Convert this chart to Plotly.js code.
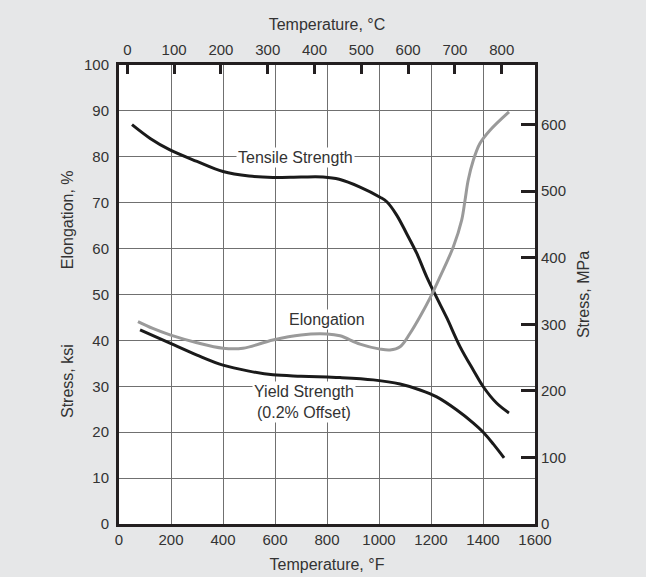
<!DOCTYPE html>
<html><head><meta charset="utf-8">
<script src="https://cdn.plot.ly/plotly-3.0.1.min.js"></script>
<style>html,body{margin:0;padding:0;background:#e6e7e8;}</style>
</head><body><div id="chart" style="width:646px;height:577px;"></div>
<script>
// Temperature in °F; strengths in ksi; elongation in %
const tensileF = [50, 120, 196, 300, 400, 500, 592, 700, 785, 847, 927, 1004, 1030, 1068, 1106, 1145, 1183, 1222, 1260, 1312, 1363, 1401, 1453, 1500];
const tensileKsi = [87, 84, 81.5, 79, 76.8, 75.8, 75.5, 75.6, 75.6, 75.1, 73.4, 71.2, 70.2, 67.3, 63.3, 59.0, 53.9, 49.3, 45.0, 38.6, 33.5, 29.9, 26.3, 24.2];
const yieldF = [81, 196, 300, 400, 500, 592, 700, 800, 850, 978, 1081, 1158, 1222, 1298, 1363, 1401, 1440, 1481];
const yieldKsi = [42.3, 39.4, 36.8, 34.6, 33.3, 32.5, 32.2, 32.0, 31.9, 31.4, 30.5, 29.2, 27.7, 24.9, 22.0, 20.0, 17.4, 14.4];
const elongF = [73, 130, 196, 300, 400, 477, 592, 700, 800, 850, 927, 1004, 1042, 1081, 1119, 1158, 1196, 1235, 1286, 1318, 1331, 1343, 1363, 1388, 1427, 1500];
const elongPct = [44.1, 42.6, 41.2, 39.5, 38.3, 38.3, 40.1, 41.2, 41.4, 41.0, 39.2, 38.1, 37.9, 38.6, 41.5, 45.2, 49.2, 53.9, 60.4, 66.2, 70.6, 74.9, 79.3, 82.9, 85.8, 89.8];
const celsiusTicks = [0, 100, 200, 300, 400, 500, 600, 700, 800];
const mpaTicks = [0, 100, 200, 300, 400, 500, 600];

const dark = '#231f20';
const txt = '#333333';
const ff = 'Liberation Sans, Arial, sans-serif';
const tickFont = {family: ff, size: 15, color: txt};
const font = {family: ff, size: 16, color: txt};

const traces = [
  {x: tensileF, y: tensileKsi, mode: 'lines', line: {color: '#1a1a1a', width: 3, shape: 'spline', smoothing: 1}, hoverinfo: 'skip', showlegend: false},
  {x: yieldF, y: yieldKsi, mode: 'lines', line: {color: '#1a1a1a', width: 3, shape: 'spline', smoothing: 1}, hoverinfo: 'skip', showlegend: false},
  {x: elongF, y: elongPct, mode: 'lines', line: {color: '#9a9a9a', width: 3, shape: 'spline', smoothing: 1}, hoverinfo: 'skip', showlegend: false},
  {x: [0], y: [0], xaxis: 'x2', yaxis: 'y2', mode: 'markers', marker: {opacity: 0}, hoverinfo: 'skip', showlegend: false}
];

const cMin = (0 - 32) / 1.8, cMax = (1600 - 32) / 1.8;
const mpaMax = 100 * 6.894757;

const layout = {
  width: 646, height: 577,
  paper_bgcolor: '#e6e7e8', plot_bgcolor: '#ffffff',
  margin: {l: 119, r: 111, t: 65, b: 53},
  font: font,
  xaxis: {
    range: [0, 1600], tickvals: [0,200,400,600,800,1000,1200,1400,1600],
    showgrid: true, gridcolor: '#707070', gridwidth: 1,
    showline: true, linecolor: dark, linewidth: 3, mirror: true,
    ticks: '', zeroline: false, tickfont: tickFont,
    title: {text: 'Temperature, °F', font: font, standoff: 12}
  },
  xaxis2: {
    overlaying: 'x', side: 'top', range: [cMin, cMax], tickvals: celsiusTicks,
    showgrid: false, zeroline: false, showline: false,
    ticks: 'inside', ticklen: 9, tickwidth: 3, tickcolor: dark, tickfont: tickFont,
    ticklabelstandoff: 6,
    title: {text: 'Temperature, °C', font: font, standoff: 6}
  },
  yaxis: {
    range: [0, 100], tickvals: [0,10,20,30,40,50,60,70,80,90,100],
    showgrid: true, gridcolor: '#707070', gridwidth: 1,
    showline: true, linecolor: dark, linewidth: 3, mirror: true,
    ticks: '', zeroline: false, tickfont: tickFont, ticklabelstandoff: 4
  },
  yaxis2: {
    overlaying: 'y', side: 'right', range: [0, mpaMax], tickvals: mpaTicks,
    showgrid: false, zeroline: false, showline: false,
    ticks: 'inside', ticklen: 14, tickwidth: 3, tickcolor: dark, tickfont: tickFont,
    ticklabelstandoff: 5,
    title: {text: 'Stress, MPa', font: font, standoff: 12}
  },
  annotations: [
    {xref: 'paper', yref: 'paper', x: -0.125, y: 0.662, xanchor: 'center', yanchor: 'middle', text: 'Elongation, %', textangle: -90, showarrow: false, font: font},
    {xref: 'paper', yref: 'paper', x: -0.125, y: 0.3115, xanchor: 'center', yanchor: 'middle', text: 'Stress, ksi', textangle: -90, showarrow: false, font: font},
    {x: 680, y: 79.8, text: 'Tensile Strength', showarrow: false, bgcolor: '#ffffff', font: font, borderpad: 1},
    {x: 800, y: 44.5, text: 'Elongation', showarrow: false, bgcolor: '#ffffff', font: font, borderpad: 1},
    {x: 710, y: 26.5, text: 'Yield Strength<br>(0.2% Offset)', showarrow: false, bgcolor: '#ffffff', font: font, borderpad: 1}
  ]
};

Plotly.newPlot('chart', traces, layout, {displayModeBar: false, staticPlot: true});
</script></body></html>
